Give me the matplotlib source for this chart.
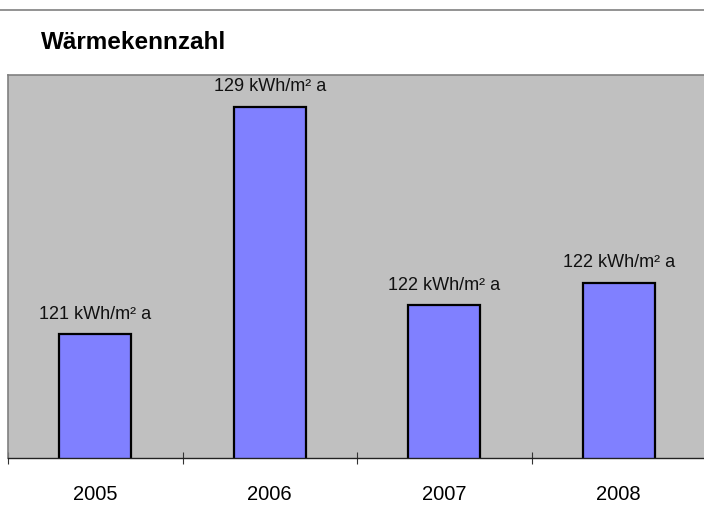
import matplotlib.pyplot as plt
from matplotlib.lines import Line2D
import numpy as np

plt.rcParams['font.family'] = ['Liberation Sans', 'DejaVu Sans']

# heat index per year (kWh/m² a)
years = ["2005", "2006", "2007", "2008"]
values = [120.53, 128.84, 121.59, 122.41]

fig = plt.figure(figsize=(7.04, 5.12), dpi=100)
ax = fig.add_axes([8 / 704, 54 / 512, 698 / 704, 383 / 512])
ax.set_facecolor("#C0C0C0")

x = np.arange(len(years))
bars = ax.bar(x, values, width=0.41, color="#8080FF", edgecolor="black",
              linewidth=1.6, zorder=2)

for xi, v in zip(x, values):
    ax.annotate(f"{v:.0f} kWh/m² a", (xi, v), xytext=(0, 11), textcoords="offset points",
                ha="center", va="baseline", fontsize=13, color="#111111")

ax.set_xlim(-0.5, len(years) - 0.5)
ax.set_ylim(116, 130)
ax.set_yticks([])

# tick marks between categories, year labels centred below the bars
ax.set_xticks(np.arange(-0.5, len(years), 1.0))
ax.set_xticklabels([])
ax.set_xticks(x, minor=True)
ax.set_xticklabels(years, minor=True, fontsize=14.5)
ax.tick_params(axis="x", which="major", direction="inout", length=8.6, width=0.8,
               color="#333333")
ax.tick_params(axis="x", which="minor", length=0, pad=19.5)

for side in ["left", "top", "right"]:
    ax.spines[side].set_color("#808080")
    ax.spines[side].set_linewidth(1.2)
ax.spines["bottom"].set_color("#222222")
ax.spines["bottom"].set_linewidth(1.0)

fig.add_artist(Line2D([0, 1], [1 - 10 / 512, 1 - 10 / 512], transform=fig.transFigure,
                      color="#808080", linewidth=1.2))
fig.text(41 / 704, 1 - 49 / 512, "Wärmekennzahl", fontsize=17.5, fontweight="bold",
         va="baseline", ha="left")

plt.savefig("out.png", dpi=100)
